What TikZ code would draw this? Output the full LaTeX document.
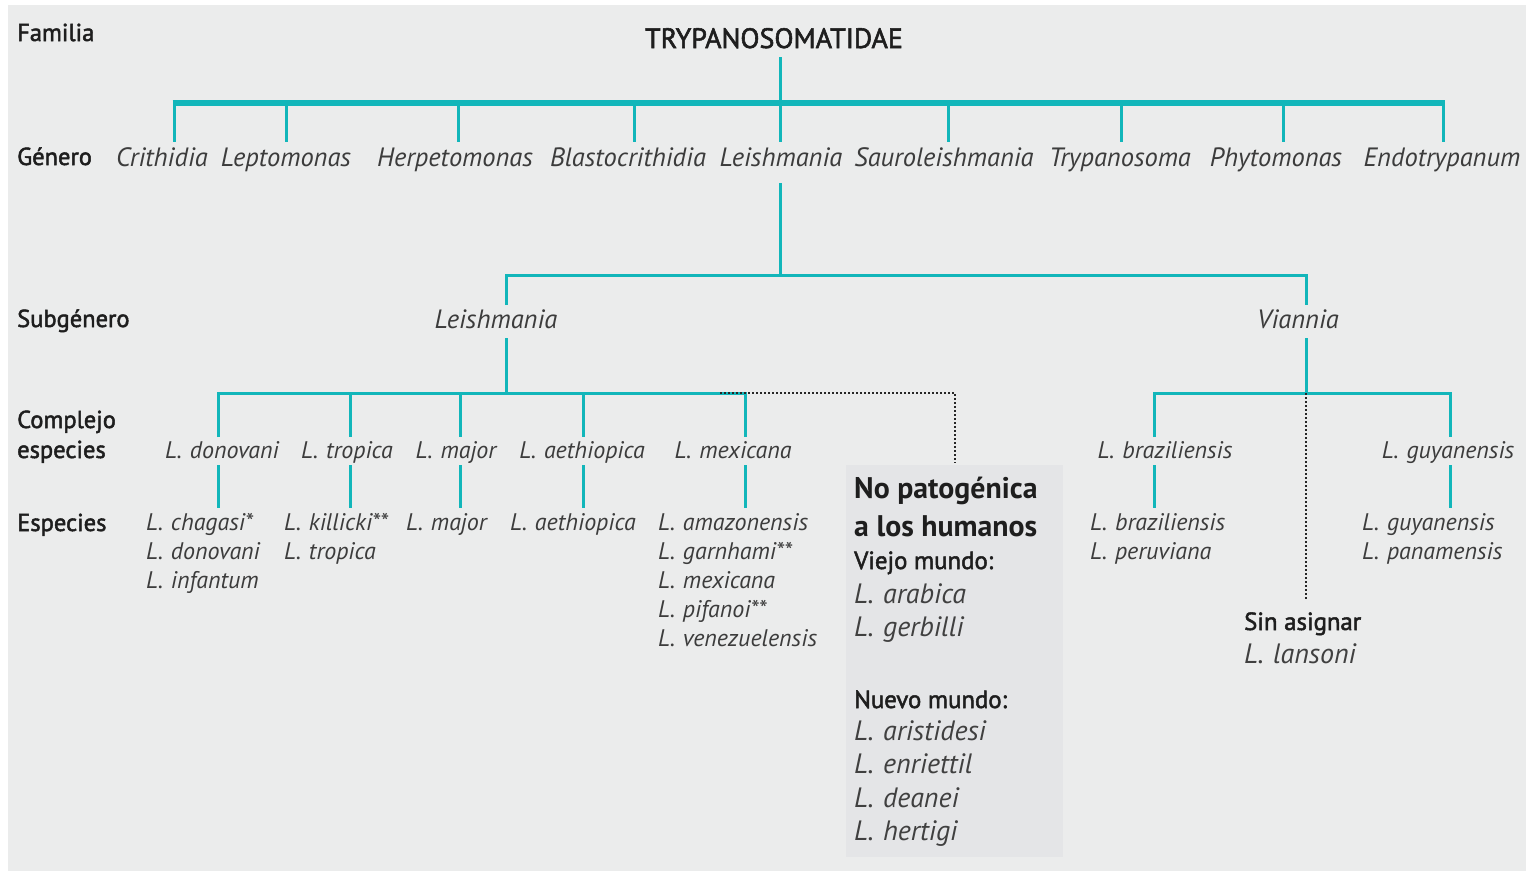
\documentclass[tikz,border=0pt]{standalone}
\usepackage{fontspec}
\setmainfont{PT Sans}
\newfontfamily\medf{PT Sans}[FakeBold=2]
\definecolor{bgc}{HTML}{EBECEC}
\definecolor{boxbg}{HTML}{E4E5E7}
\definecolor{tline}{HTML}{12B6BA}
\definecolor{txt}{HTML}{3C3C3C}
\definecolor{lab}{HTML}{1E1E1E}
\newcommand\Lsp{L.\hspace{0.33em}}
\tikzset{
  lbl/.style={anchor=base west, inner sep=0pt, text=lab, font=\medf\fontsize{24.5}{30}\selectfont},
  ttl/.style={anchor=base, inner sep=0pt, text=lab, font=\medf\fontsize{28}{32}\selectfont},
  gen/.style={anchor=base, inner sep=0pt, text=txt, font=\itshape\fontsize{26.5}{30}\selectfont},
  cpx/.style={anchor=base, inner sep=0pt, text=txt, font=\itshape\fontsize{24}{28}\selectfont},
  spc/.style={anchor=base west, inner sep=0pt, text=txt, font=\itshape\fontsize{24}{28}\selectfont},
  bhead/.style={anchor=base west, inner sep=0pt, text=lab, font=\bfseries\fontsize{29.8}{34}\selectfont},
  bsub/.style={anchor=base west, inner sep=0pt, text=lab, font=\medf\fontsize{24.8}{28}\selectfont},
  bspc/.style={anchor=base west, inner sep=0pt, text=lab!85, font=\itshape\fontsize{28}{32}\selectfont},
  conn/.style={draw=tline, line width=3pt, line join=miter},
  bar/.style={draw=tline, line width=6pt},
  dots/.style={draw=black!85, line width=2pt, dash pattern=on 1.6pt off 2.4pt},
}
\begin{document}
\begin{tikzpicture}[x=1pt,y=-1pt]
\useasboundingbox (0,0) rectangle (1526,871);
\fill[white] (0,0) rectangle (1526,871);
\fill[bgc] (8,5) rectangle (1526,871);
\fill[boxbg] (846,465) rectangle (1063,857);

% row labels
\node[lbl] (lfam) at (17,41) {Familia};
\node[lbl] (lgen) at (17,165) {Género};
\node[lbl] (lsub) at (17,327) {Subgénero};
\node[lbl] (lcpx1) at (17,428) {Complejo};
\node[lbl] (lcpx2) at (17,458) {especies};
\node[lbl] (lesp) at (17,531) {Especies};

% family
\node[ttl] (fam) at (774,48) {TRYPANOSOMATIDAE};

% genera
\node[gen] (g1) at (162,166) {Crithidia};
\node[gen] (g2) at (286,166) {Leptomonas};
\node[gen] (g3) at (455,166) {Herpetomonas};
\node[gen] (g4) at (628,166) {Blastocrithidia};
\node[gen] (g5) at (781,166) {Leishmania};
\node[gen] (g6) at (944,166) {Sauroleishmania};
\node[gen] (g7) at (1120,166) {Trypanosoma};
\node[gen] (g8) at (1276,166) {Phytomonas};
\node[gen] (g9) at (1442,166) {Endotrypanum};

% subgenera
\node[gen] (sL) at (496,328) {Leishmania};
\node[gen] (sV) at (1298,328) {Viannia};

% complexes
\node[cpx] (c1) at (222,458) {\Lsp donovani};
\node[cpx] (c2) at (347,458) {\Lsp tropica};
\node[cpx] (c3) at (456,458) {\Lsp major};
\node[cpx] (c4) at (582,458) {\Lsp aethiopica};
\node[cpx] (c5) at (733,458) {\Lsp mexicana};
\node[cpx] (c6) at (1165,458) {\Lsp braziliensis};
\node[cpx] (c7) at (1448,458) {\Lsp guyanensis};

% species
\node[spc] (s11) at (146,530) {\Lsp chagasi*};
\node[spc] (s12) at (146,559) {\Lsp donovani};
\node[spc] (s13) at (146,588) {\Lsp infantum};
\node[spc] (s21) at (284,530) {\Lsp killicki**};
\node[spc] (s22) at (284,559) {\Lsp tropica};
\node[spc] (s31) at (406,530) {\Lsp major};
\node[spc] (s41) at (510,530) {\Lsp aethiopica};
\node[spc] (s51) at (658,530) {\Lsp amazonensis};
\node[spc] (s52) at (658,559) {\Lsp garnhami**};
\node[spc] (s53) at (658,588) {\Lsp mexicana};
\node[spc] (s54) at (658,617) {\Lsp pifanoi**};
\node[spc] (s55) at (658,646) {\Lsp venezuelensis};
\node[spc] (s61) at (1090,530) {\Lsp braziliensis};
\node[spc] (s62) at (1090,559) {\Lsp peruviana};
\node[spc] (s71) at (1362,530) {\Lsp guyanensis};
\node[spc] (s72) at (1362,559) {\Lsp panamensis};

% non-pathogenic box
\node[bhead] (np1) at (854,498) {No patogénica};
\node[bhead] (np2) at (854,536) {a los humanos};
\node[bsub] (vm) at (854,569) {Viejo mundo:};
\node[bspc] (vm1) at (854,603) {\Lsp arabica};
\node[bspc] (vm2) at (854,636) {\Lsp gerbilli};
\node[bsub] (nm) at (854,708) {Nuevo mundo:};
\node[bspc] (nm1) at (854,740) {\Lsp aristidesi};
\node[bspc] (nm2) at (854,773) {\Lsp enriettil};
\node[bspc] (nm3) at (854,807) {\Lsp deanei};
\node[bspc] (nm4) at (854,840) {\Lsp hertigi};

% unassigned
\node[bsub] (sa) at (1244,630) {Sin asignar};
\node[bspc] (sa1) at (1244,663) {\Lsp lansoni};

% ---- connector coordinates ----
\coordinate (fam-s) at (780,57);
\coordinate (bar-c) at (780,103);
\coordinate (bar-l) at (172.5,103);
\coordinate (bar-r) at (1444.5,103);
\draw[bar] (bar-l) -- (bar-r);
\draw[conn] (fam-s) -- (bar-c);
\foreach \x/\n in {174/1,286/2,458/3,634/4,780/5,948/6,1121/7,1283/8,1443/9}{
  \coordinate (gt\n) at (\x,103);
  \coordinate (gb\n) at (\x,142);
  \draw[conn] (gt\n) -- (gb\n);
}
\coordinate (lei-d) at (780,183);
\coordinate (sub-c) at (780,275);
\coordinate (sub-l) at (506,275);
\coordinate (sub-r) at (1306,275);
\coordinate (subL-t) at (506,305);
\coordinate (subR-t) at (1306,305);
\draw[conn] (lei-d) -- (sub-c);
\draw[conn] (subL-t) -- (sub-l) -- (sub-r) -- (subR-t);

\coordinate (subL-b) at (506,338);
\coordinate (subL-j) at (506,393);
\coordinate (subR-b) at (1306,338);
\coordinate (subR-j) at (1306,393);
\draw[conn] (subL-b) -- (subL-j);
\draw[conn] (subR-b) -- (subR-j);

\coordinate (cl-l) at (218,393);
\coordinate (cl-r) at (745,393);
\coordinate (cr-l) at (1154,393);
\coordinate (cr-r) at (1450,393);
\draw[conn] (218,437) coordinate (cd1) -- (cl-l) -- (cl-r) -- (745,437) coordinate (cd5);
\draw[conn] (1154,437) coordinate (cd6) -- (cr-l) -- (cr-r) -- (1450,437) coordinate (cd7);
\foreach \x/\n in {350/2,460/3,583/4}{
  \coordinate (cu\n) at (\x,393);
  \coordinate (cd\n) at (\x,437);
  \draw[conn] (cu\n) -- (cd\n);
}
\foreach \x/\n in {218/1,350/2,460/3,583/4,745/5,1154/6,1450/7}{
  \coordinate (ct\n) at (\x,465);
  \coordinate (cb\n) at (\x,508);
  \draw[conn] (ct\n) -- (cb\n);
}

% dotted connectors
\coordinate (np-j) at (720,393);
\coordinate (np-c) at (955,393);
\coordinate (np-e) at (955,463);
\draw[dots] (np-j) -- (np-c) -- (np-e);
\coordinate (sa-e) at (1306,600);
\draw[dots] (subR-j) -- (sa-e);
\end{tikzpicture}
\end{document}
